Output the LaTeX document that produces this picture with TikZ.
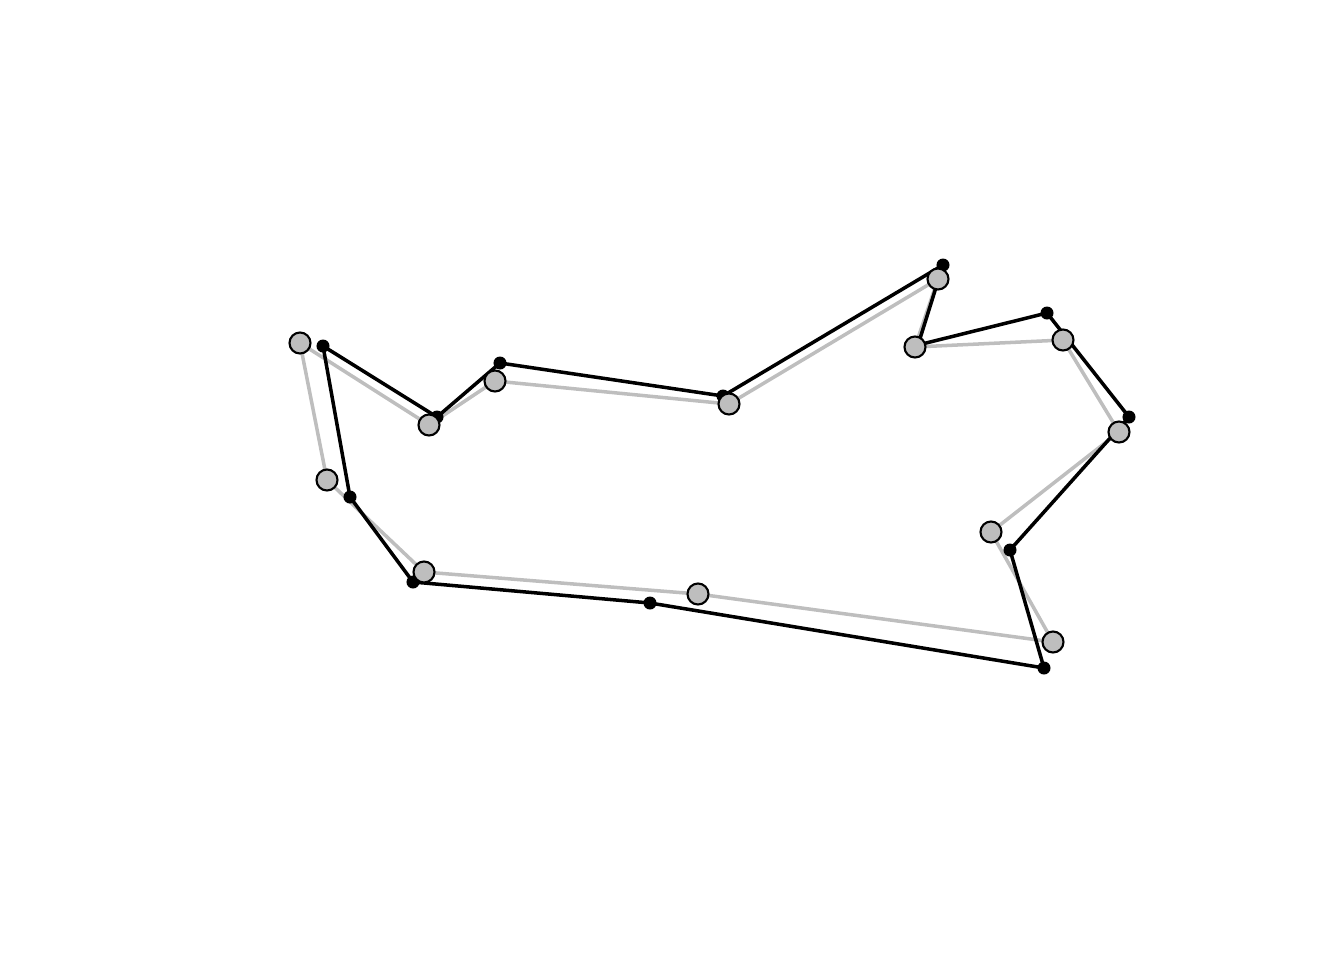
\documentclass[tikz,border=0pt]{standalone}
\definecolor{lightgrey}{RGB}{190,190,190}
\begin{document}
\begin{tikzpicture}[x=0.01cm, y=-0.01cm,
	oldline/.style={lightgrey, line width=1pt, line join=round},
	newline/.style={black, line width=1pt, line join=round},
	olddot/.style={circle, draw=black, fill=lightgrey, line width=0.6pt, minimum size=0.21cm, inner sep=0pt},
	newdot/.style={circle, fill=black, minimum size=0.13cm, inner sep=0pt}]
	
	\useasboundingbox (0,0) rectangle (1344,960);
	
	% Vertici grigi (vecchio contorno)
	\coordinate (G1) at (300,343);
	\coordinate (G2) at (429,425);
	\coordinate (G3) at (495,381);
	\coordinate (G4) at (729,404);
	\coordinate (G5) at (938,279);
	\coordinate (G6) at (915,347);
	\coordinate (G7) at (1063,340);
	\coordinate (G8) at (1119,432);
	\coordinate (G9) at (991,532);
	\coordinate (G10) at (1053,642);
	\coordinate (G11) at (698,594);
	\coordinate (G12) at (424,572);
	\coordinate (G13) at (327,480);
	
	% Vertici neri (nuovo contorno)
	\coordinate (N1) at (323,346);
	\coordinate (N2) at (437,417);
	\coordinate (N3) at (500,363);
	\coordinate (N4) at (723,396);
	\coordinate (N5) at (943,265);
	\coordinate (N6) at (918,345);
	\coordinate (N7) at (1047,313);
	\coordinate (N8) at (1129,417);
	\coordinate (N9) at (1010,550);
	\coordinate (N10) at (1044,668);
	\coordinate (N11) at (650,603);
	\coordinate (N12) at (413,582);
	\coordinate (N13) at (350,497);
	
	% Contorni
	\draw[oldline] (G1) -- (G2) -- (G3) -- (G4) -- (G5) -- (G6) -- (G7) -- (G8) -- (G9) -- (G10) -- (G11) -- (G12) -- (G13) -- cycle;
	\draw[newline] (N1) -- (N2) -- (N3) -- (N4) -- (N5) -- (N6) -- (N7) -- (N8) -- (N9) -- (N10) -- (N11) -- (N12) -- (N13) -- cycle;
	
	% Punti
	\foreach \i in {1,...,13}
		\node[newdot] (n\i) at (N\i) {};
	\foreach \i in {1,...,13}
		\node[olddot] (g\i) at (G\i) {};
	
\end{tikzpicture}
\end{document}
